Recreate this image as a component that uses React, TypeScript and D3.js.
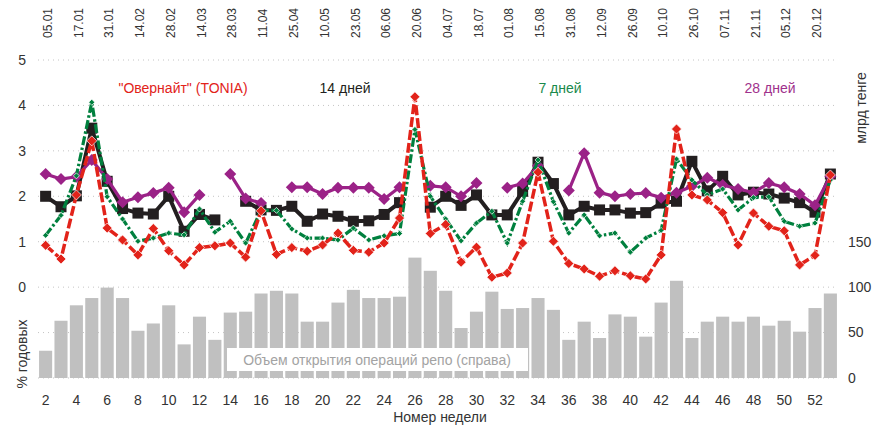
import * as d3 from "d3";

const weeks = [
  2, 3, 4, 5, 6, 7, 8, 9, 10, 11, 12, 13, 14, 15, 16, 17, 18, 19, 20, 21, 22, 23, 24, 25, 26, 27,
  28, 29, 30, 31, 32, 33, 34, 35, 36, 37, 38, 39, 40, 41, 42, 43, 44, 45, 46, 47, 48, 49, 50, 51,
  52, 53,
];

const dateLabels = [
  "05.01", "17.01", "31.01", "14.02", "28.02", "14.03", "28.03", "11.04", "25.04", "10.05",
  "23.05", "06.06", "20.06", "04.07", "18.07", "01.08", "15.08", "31.08", "12.09", "26.09",
  "10.10", "26.10", "07.11", "21.11", "05.12", "20.12",
];

// объем репо, млрд тенге (правая ось)
const volume = [
  30, 63, 80, 88, 99.5, 88, 52, 60, 80, 37, 67.5, 42, 72, 73, 93, 96, 93, 62, 62, 83, 97, 88, 88,
  89.5, 132.5, 118, 96, 55, 73, 95, 76, 77, 88, 75, 42, 62, 44, 70, 67.5, 45.5, 83, 107, 44, 62,
  67.5, 62, 67.5, 57.6, 63, 51, 77, 93,
];

const overnight: (number | null)[] = [
  0.92, 0.62, 2.03, 3.22, 1.3, 1.04, 0.71, 1.29, 0.8, 0.49, 0.87, 0.91, 0.97, 0.66, 1.68, 0.72,
  0.87, 0.79, 0.93, 1.19, 0.81, 0.77, 0.97, 1.52, 4.19, 1.18, 1.38, 0.55, 0.88, 0.22, 0.31, 0.97,
  2.53, 1.01, 0.52, 0.4, 0.24, 0.36, 0.25, 0.18, 0.71, 3.48, 2.03, 1.92, 1.64, 0.93, 1.63, 1.34,
  1.24, 0.49, 0.7, 2.47,
];

const days7: (number | null)[] = [
  1.14, 1.58, 2.45, 4.07, 1.99, 1.5, 1.01, 1.08, 1.19, 1.15, 1.72, 1.21, 1.45, 0.97, 1.69, 1.69,
  1.28, 1.08, 1.08, 1.04, 1.3, 1.04, 1.13, 1.18, 3.47, 2.0, 1.5, 1.02, 1.41, 1.67, 0.97, 1.89,
  2.8, 1.88, 1.19, 1.59, 1.13, 1.19, 0.77, 1.08, 1.25, 2.82, 2.36, 2.03, 2.16, 1.7, 1.97, 1.99,
  1.45, 1.34, 1.41, 2.36,
];

const days14: (number | null)[] = [
  2.0, 1.77, 2.01, 3.5, 2.33, 1.73, 1.63, 1.61, 2.0, 1.23, 1.6, 1.48, null, 1.89, 1.7, 1.69, 1.78,
  1.45, 1.61, 1.56, 1.45, 1.46, 1.6, 1.86, null, 1.76, 2.0, 1.8, 2.03, 1.59, 1.59, 2.11, 2.75,
  2.28, 1.59, 1.78, 1.7, 1.7, 1.63, 1.64, 1.85, 1.89, 2.77, 2.12, 2.44, 2.03, 2.09, 2.05, 1.96,
  1.86, 1.65, 2.49,
];

const days28: (number | null)[] = [
  2.49, 2.38, 2.43, 2.8, 2.38, 1.87, 1.98, 2.07, 2.19, 1.65, 2.03, null, 2.49, 1.95, 1.85, null,
  2.2, 2.2, 2.05, 2.19, 2.19, 2.19, 1.94, 2.2, null, 2.23, 2.2, 2.0, 2.29, null, 2.19, 2.28, 2.67,
  null, 2.13, 2.95, 2.08, 2.0, 2.05, 2.07, 1.97, 2.08, 2.22, 2.41, 2.25, 2.16, 2.08, 2.29, 2.2,
  2.05, 1.8, 2.44,
];

const leftTicks = [-2, -1, 0, 1, 2, 3, 4, 5];
const leftLabels = [0, 1, 2, 3, 4, 5];
const rightLabels = [0, 50, 100, 150];

const width = 874;
const height = 427;
const font = "'Liberation Sans', Arial, sans-serif";

const RED = "#e2231a";
const GREEN = "#00803e";
const BLACK = "#231f20";
const PURPLE = "#9b2287";

const diamond = (cx: number, cy: number, r: number) =>
  `M${cx},${cy - r}L${cx + r},${cy}L${cx},${cy + r}L${cx - r},${cy}Z`;

export default function App() {
  const x = d3
    .scaleBand<number>()
    .domain(weeks)
    .range([38, 838])
    .paddingInner(0.15)
    .paddingOuter(0.07);
  const yL = d3.scaleLinear().domain([-2, 5]).range([378, 60]);
  const yR = d3.scaleLinear().domain([0, 350]).range([378, 60]);
  const cx = (w: number) => (x(w) ?? 0) + x.bandwidth() / 2;

  const lineGen = d3
    .line<number | null>()
    .defined((d) => d !== null)
    .x((_, i) => cx(weeks[i]))
    .y((d) => yL(d as number));

  const series = [
    { data: days14, color: BLACK, dash: undefined, w: 4, marker: "square", size: 11 },
    { data: days28, color: PURPLE, dash: undefined, w: 3.2, marker: "diamond", size: 6 },
    { data: days7, color: GREEN, dash: "9,2.5,2.5,2.5", w: 3.2, marker: "diamond", size: 3 },
    { data: overnight, color: RED, dash: "10,3", w: 3.5, marker: "diamond", size: 5 },
  ];

  return (
    <svg
      width={width}
      height={height}
      style={{ position: "absolute", left: 0, top: 0, background: "#fff" }}
      fontFamily={font}
    >
      {/* grid */}
      {leftTicks.map((t) => (
        <line
          key={t}
          x1={38}
          x2={838}
          y1={yL(t)}
          y2={yL(t)}
          stroke="#c4c4c4"
          strokeWidth={1}
          strokeDasharray="1,4"
        />
      ))}

      {/* bars */}
      {volume.map((v, i) => (
        <rect
          key={i}
          x={x(weeks[i])}
          y={yR(v)}
          width={x.bandwidth()}
          height={yR(0) - yR(v)}
          fill="#c0c0c0"
        />
      ))}

      {/* bar legend */}
      <rect x={227} y={348} width={301} height={23} fill="#fff" />
      <text x={377} y={365} textAnchor="middle" fontSize={14} fill="#a3a3a3">
        Объем открытия операций репо (справа)
      </text>

      {/* lines */}
      {series.map((s, si) => (
        <g key={si}>
          <path
            d={lineGen(s.data) ?? ""}
            fill="none"
            stroke={s.color}
            strokeWidth={s.w}
            strokeDasharray={s.dash}
            strokeLinejoin="miter"
          />
          {s.data.map((d, i) =>
            d === null ? null : s.marker === "square" ? (
              <rect
                key={i}
                x={cx(weeks[i]) - s.size / 2}
                y={yL(d) - s.size / 2}
                width={s.size}
                height={s.size}
                fill={s.color}
              />
            ) : (
              <path
                key={i}
                d={diamond(cx(weeks[i]), yL(d), s.size)}
                fill={s.color}
                stroke={s.color === PURPLE ? "none" : "#fff"}
                strokeWidth={0.7}
              />
            )
          )}
        </g>
      ))}

      {/* left axis */}
      {leftLabels.map((t) => (
        <text key={t} x={26} y={yL(t)} dy="0.35em" textAnchor="end" fontSize={14} fill="#333">
          {t}
        </text>
      ))}
      <text
        transform={`translate(22,354) rotate(-90)`}
        textAnchor="middle"
        dy="0.35em"
        fontSize={14}
        fill="#333"
      >
        % годовых
      </text>

      {/* right axis */}
      {rightLabels.map((t) => (
        <text key={t} x={848} y={yR(t)} dy="0.35em" textAnchor="start" fontSize={14} fill="#333">
          {t}
        </text>
      ))}
      <text
        transform={`translate(861,108) rotate(-90)`}
        textAnchor="middle"
        dy="0.35em"
        fontSize={14}
        fill="#333"
      >
        млрд тенге
      </text>

      {/* bottom axis */}
      {weeks
        .filter((w) => w % 2 === 0)
        .map((w) => (
          <text key={w} x={cx(w)} y={405} textAnchor="middle" fontSize={14} fill="#333">
            {w}
          </text>
        ))}
      <text x={440} y={422} textAnchor="middle" fontSize={14} fill="#333">
        Номер недели
      </text>

      {/* top date axis */}
      {weeks
        .filter((w) => w % 2 === 0)
        .map((w, i) => (
          <text
            key={w}
            transform={`translate(${cx(w) + 2},38) rotate(-90)`}
            dy="0.35em"
            textAnchor="start"
            fontSize={12}
            fill="#333"
          >
            {dateLabels[i]}
          </text>
        ))}

      {/* series labels */}
      <text x={183} y={93} textAnchor="middle" fontSize={14} fill={RED}>
        "Овернайт" (TONIA)
      </text>
      <text x={345} y={93} textAnchor="middle" fontSize={14} fill={BLACK}>
        14 дней
      </text>
      <text x={560} y={93} textAnchor="middle" fontSize={14} fill="#1a8a4c">
        7 дней
      </text>
      <text x={770} y={93} textAnchor="middle" fontSize={14} fill="#a0318c">
        28 дней
      </text>
    </svg>
  );
}
